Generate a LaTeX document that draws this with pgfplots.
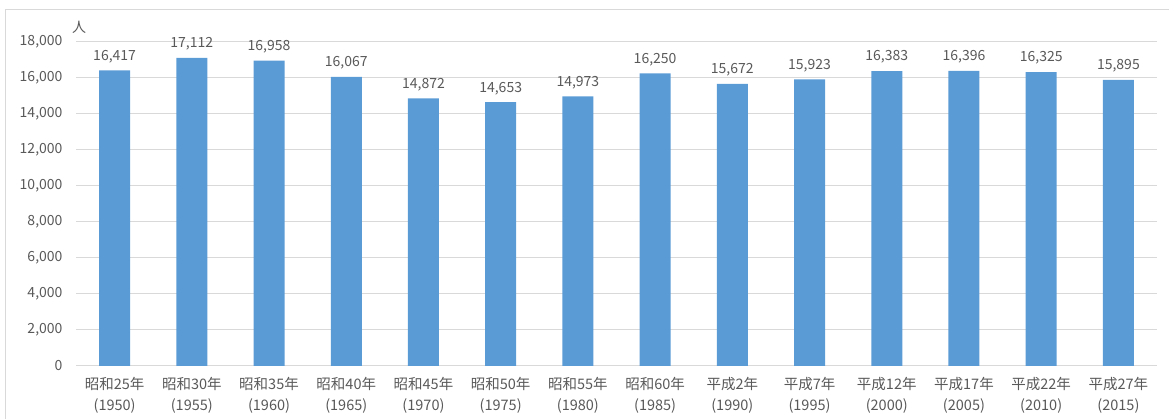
\documentclass[border=0pt]{standalone}
\usepackage{fontspec}
\setmainfont{Noto Sans CJK JP}
\usepackage{pgfplots}
\pgfplotsset{compat=1.18}
\definecolor{barblue}{HTML}{5B9BD5}
\definecolor{txtgray}{HTML}{595959}
\definecolor{gridgray}{HTML}{D9D9D9}
\begin{document}
\begin{tikzpicture}[x=1pt,y=1pt]
\path[use as bounding box] (0,0) rectangle (1169,419);
% outer chart frame
\draw[gridgray, line width=1.5pt] (5.5,-2) -- (5.5,409.5) -- (1172,409.5);
\begin{axis}[
  at={(76pt,53pt)}, anchor=south west,
  scale only axis, width=1081pt, height=324pt,
  xmin=-0.5, xmax=13.5, ymin=0, ymax=18000,
  ytick={0,2000,...,18000},
  xtick=data,
  xticklabels={{昭和25年\\(1950)},{昭和30年\\(1955)},{昭和35年\\(1960)},{昭和40年\\(1965)},{昭和45年\\(1970)},{昭和50年\\(1975)},{昭和55年\\(1980)},{昭和60年\\(1985)},{平成2年\\(1990)},{平成7年\\(1995)},{平成12年\\(2000)},{平成17年\\(2005)},{平成22年\\(2010)},{平成27年\\(2015)}},
  xticklabel style={align=center, font=\fontsize{14.5}{21}\selectfont, text=txtgray, yshift=-3pt},
  yticklabel style={font=\fontsize{14}{16}\selectfont, text=txtgray, xshift=-10pt},
  /pgf/number format/assume math mode=true,
  /pgf/number format/1000 sep={,},
  scaled y ticks=false,
  ymajorgrids, grid style={gridgray, line width=1pt},
  axis line style={draw=none},
  tick style={draw=none},
  axis x line*=bottom,
  x axis line style={draw=gridgray, line width=1pt},
  y axis line style={draw=none},
  ybar, bar width=31pt,
  nodes near coords,
  nodes near coords style={font=\fontsize{14}{16}\selectfont, text=txtgray, yshift=4pt, /pgf/number format/assume math mode=true, /pgf/number format/1000 sep={,}},
  clip=false,
]
\addplot[fill=barblue, draw=none] coordinates {
  (0,16417) (1,17112) (2,16958) (3,16067) (4,14872) (5,14653) (6,14973)
  (7,16250) (8,15672) (9,15923) (10,16383) (11,16396) (12,16325) (13,15895)
};
\end{axis}
\node[font=\fontsize{14}{16}\selectfont, text=txtgray] at (79,392) {人};
\end{tikzpicture}
\end{document}
